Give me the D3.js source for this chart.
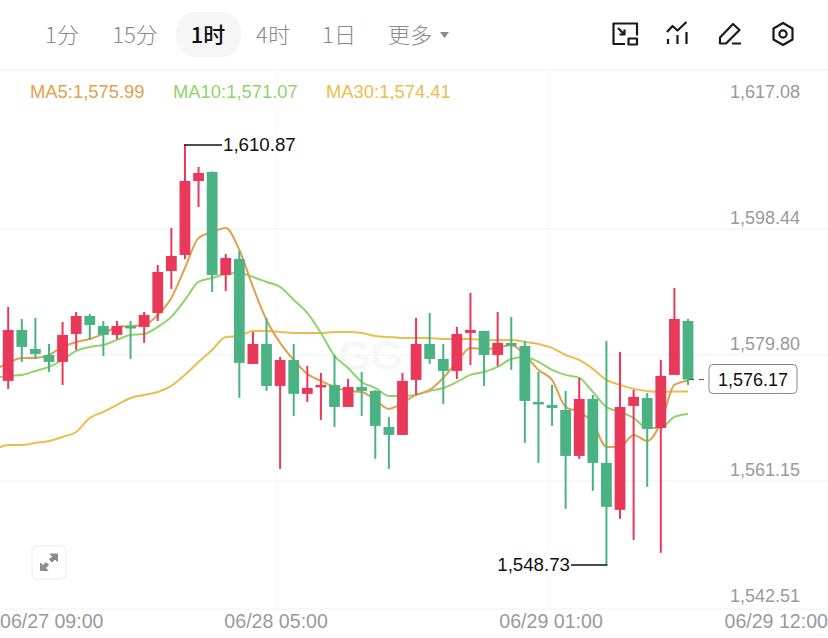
<!DOCTYPE html>
<html lang="zh">
<head>
<meta charset="utf-8">
<title>K线图</title>
<script src="https://cdn.jsdelivr.net/npm/d3@7/dist/d3.min.js"></script>
<style>
  html, body { margin: 0; padding: 0; background: #fff; }
  svg { display: block; }
  text { font-family: "Liberation Sans", Arial, sans-serif; }
  .cjk { font-family: "Noto Sans CJK SC", "Noto Sans", sans-serif; }
</style>
</head>
<body>
<svg id="chart" width="828" height="638"></svg>
<script>
// Hourly candles, oldest first
const opens = [1575.96,1583.50,1580.69,1579.80,1578.77,1582.91,1585.57,1584.09,1582.77,1584.09,1583.95,1586.02,1592.23,1594.60,1605.54,1606.88,1591.64,1594.01,1578.47,1581.43,1575.22,1579.06,1574.04,1575.07,1575.37,1572.11,1575.07,1574.48,1569.15,1567.97,1576.11,1581.43,1579.21,1577.44,1583.06,1583.36,1579.80,1581.58,1581.14,1572.85,1572.41,1571.67,1564.86,1573.30,1563.83,1556.88,1572.26,1573.44,1569.00,1576.85,1584.83];
const highs = [1586.90,1585.13,1585.28,1581.43,1584.69,1586.16,1585.87,1584.83,1584.83,1584.83,1586.16,1593.12,1598.59,1610.87,1607.62,1606.95,1594.75,1595.19,1583.21,1585.28,1579.51,1581.43,1578.18,1577.14,1579.80,1576.25,1577.29,1574.60,1570.63,1577.14,1585.28,1586.02,1581.43,1583.95,1588.98,1583.36,1586.16,1585.43,1581.88,1577.29,1575.37,1574.48,1576.40,1573.89,1581.88,1580.25,1574.63,1574.18,1579.06,1589.72,1585.13];
const lows = [1574.78,1578.77,1579.21,1577.29,1575.37,1580.55,1582.03,1579.66,1582.17,1579.21,1581.58,1584.83,1589.57,1594.01,1601.70,1589.12,1589.27,1573.44,1578.47,1574.48,1562.94,1570.78,1572.85,1570.19,1569.15,1572.11,1570.78,1564.42,1562.94,1567.97,1573.89,1578.47,1572.56,1576.25,1578.32,1575.22,1578.18,1577.59,1566.79,1563.83,1569.30,1557.03,1564.42,1559.69,1548.73,1555.55,1552.44,1560.28,1550.52,1576.85,1575.37];
const closes = [1583.50,1580.99,1579.95,1578.77,1582.77,1585.57,1584.24,1582.77,1584.09,1583.95,1585.72,1592.08,1594.45,1605.54,1606.73,1591.64,1594.16,1578.62,1581.43,1575.22,1579.06,1574.04,1574.92,1575.37,1572.11,1575.07,1574.48,1569.30,1567.97,1575.96,1581.43,1579.21,1577.44,1582.91,1583.50,1579.80,1581.58,1581.14,1573.00,1572.56,1571.96,1564.86,1573.30,1563.83,1557.32,1572.11,1573.59,1568.86,1576.70,1585.13,1576.17];

// Moving averages; each list starts one bar before the first candle
const ma5 = [1577.59,1578.62,1579.36,1579.36,1579.80,1580.99,1581.73,1582.17,1582.91,1583.95,1584.09,1584.24,1585.72,1588.24,1592.67,1597.11,1597.99,1598.59,1595.34,1589.87,1584.98,1581.58,1579.06,1577.00,1575.96,1575.07,1574.48,1574.33,1573.15,1571.82,1572.70,1573.89,1574.63,1576.40,1578.77,1580.84,1580.69,1580.84,1581.28,1579.80,1577.59,1576.11,1572.11,1571.37,1569.75,1566.20,1566.20,1567.97,1567.08,1569.75,1575.37,1575.99];
const ma10 = [1576.40,1576.70,1576.85,1577.44,1578.03,1579.06,1580.40,1580.99,1581.28,1582.03,1582.77,1582.91,1583.95,1585.43,1587.94,1590.60,1591.19,1591.79,1591.94,1591.34,1590.60,1589.87,1587.94,1586.02,1583.06,1579.66,1577.88,1575.81,1574.92,1573.74,1573.74,1573.89,1574.48,1574.92,1575.81,1576.85,1577.29,1578.03,1579.21,1579.51,1578.77,1577.59,1576.85,1576.40,1574.33,1572.11,1571.37,1570.48,1569.00,1569.00,1570.63,1571.07];
const ma30 = [1565.75,1566.49,1566.49,1566.79,1567.08,1567.67,1568.41,1570.48,1571.37,1572.41,1573.44,1573.89,1574.33,1575.22,1576.85,1578.77,1580.55,1582.47,1582.62,1583.36,1583.36,1583.21,1583.06,1583.06,1583.06,1583.21,1583.21,1583.06,1582.62,1582.47,1582.32,1582.32,1582.32,1582.17,1582.17,1582.17,1582.03,1582.03,1582.03,1581.73,1581.43,1580.84,1579.80,1579.06,1577.74,1576.11,1575.37,1574.78,1574.48,1574.33,1574.41,1574.41];

// Axis and toolbar labels
const priceTicks = [1617.08, 1598.44, 1579.80, 1561.15, 1542.51];
const timeTicks = ["06/27 09:00", "06/28 05:00", "06/29 01:00", "06/29 12:00"];
const timeTickBars = [0, 20, 40, 51];
const periodTabs = ["1分", "15分", "1时", "4时", "1日", "更多"];
const activeTab = "1时";
const legendNames = ["MA5", "MA10", "MA30"];
const lastPrice = 1576.17;

const RED = "#e8395a", GREEN = "#4bb383";
const MA_COLORS = ["#e0a14f", "#8fd46a", "#ebbd4f"];
const TICK_GRAY = "#9a9a9a";
const fmt = d3.format(",.2f");

const svg = d3.select("#chart");

const x = d3.scaleLinear().domain([0, 50]).range([8.2, 688]);
const y = d3.scaleLinear().domain([1542.51, 1617.08]).range([607, 103]);

// Clip the plotted series to the canvas
svg.append("defs").append("clipPath").attr("id", "plot")
  .append("rect").attr("x", 0).attr("y", 0).attr("width", 828).attr("height", 638);

// Panel rules and grid
const grid = svg.append("g").attr("stroke", "#f6f6f6").attr("stroke-width", 1.4);
grid.selectAll("line.h").data(priceTicks.slice(1, 4)).join("line").attr("class", "h")
  .attr("x1", 0).attr("x2", 828).attr("y1", d => y(d)).attr("y2", d => y(d));
grid.selectAll("line.v").data(timeTickBars.slice(1, 3)).join("line").attr("class", "v")
  .attr("stroke", "#fafafa")
  .attr("x1", d => x(d) - 3).attr("x2", d => x(d) - 3).attr("y1", 70).attr("y2", 609);
[70, 609, 635].forEach(py => grid.append("line").attr("x1", 0).attr("x2", 828).attr("y1", py).attr("y2", py));

// Faint watermark behind the series
svg.append("text").attr("x", 338).attr("y", 370).attr("font-size", 42).attr("font-weight", 700)
  .attr("fill", "#f7f7f7").text("GG");

// Moving average lines
const plot = svg.append("g").attr("clip-path", "url(#plot)");
const line = d3.line().x((d, i) => x(i - 1)).y(d => y(d)).curve(d3.curveMonotoneX);
[ma30, ma10, ma5].forEach((series, k) => {
  plot.append("path").attr("d", line(series)).attr("fill", "none")
    .attr("stroke", MA_COLORS[2 - k]).attr("stroke-width", 2).attr("stroke-linejoin", "round");
});

// Candles
const bars = d3.range(opens.length);
const candle = plot.selectAll("g.candle").data(bars).join("g").attr("class", "candle")
  .attr("fill", i => closes[i] >= opens[i] ? RED : GREEN)
  .attr("stroke", "none");
candle.append("rect").attr("x", i => x(i) - 1).attr("width", 2)
  .attr("y", i => y(highs[i])).attr("height", i => y(lows[i]) - y(highs[i]));
candle.append("rect").attr("x", i => x(i) - 5.4).attr("width", 10.8)
  .attr("y", i => y(Math.max(opens[i], closes[i])))
  .attr("height", i => Math.max(2.5, Math.abs(y(opens[i]) - y(closes[i]))));

// Price axis
svg.append("g").selectAll("text").data(priceTicks).join("text")
  .attr("x", 800).attr("y", d => y(d) - 5).attr("text-anchor", "end")
  .attr("font-size", 18).attr("fill", TICK_GRAY).text(fmt);

// Time axis; the outer labels stay inside the canvas
const timeAxis = svg.append("g").attr("font-size", 19.6).attr("fill", TICK_GRAY);
timeTicks.forEach((label, k) => {
  const t = timeAxis.append("text").attr("y", 628).text(label);
  if (k === 0) t.attr("x", 0);
  else if (k === timeTicks.length - 1) t.attr("x", 828).attr("text-anchor", "end");
  else t.attr("x", x(timeTickBars[k]) - (k === 1 ? 4 : 1)).attr("text-anchor", "middle");
});

// Legend with the latest averages
const legendX = [30, 173, 326];
[ma5, ma10, ma30].forEach((series, k) => {
  svg.append("text").attr("x", legendX[k]).attr("y", 98).attr("font-size", 18.4)
    .attr("fill", MA_COLORS[k]).text(`${legendNames[k]}:${fmt(series[series.length - 1])}`);
});

// High and low callouts
const hiBar = highs.indexOf(d3.max(highs));
const loBar = lows.indexOf(d3.min(lows));
const callouts = svg.append("g").attr("font-size", 18.7).attr("fill", "#111");
callouts.append("line").attr("x1", x(hiBar) - 1).attr("x2", 222)
  .attr("y1", y(highs[hiBar])).attr("y2", y(highs[hiBar])).attr("stroke", "#111").attr("stroke-width", 1.4);
callouts.append("text").attr("x", 223).attr("y", y(highs[hiBar]) + 6.5).text(fmt(highs[hiBar]));
callouts.append("line").attr("x1", x(loBar) + 1).attr("x2", 571)
  .attr("y1", y(lows[loBar])).attr("y2", y(lows[loBar])).attr("stroke", "#111").attr("stroke-width", 1.4);
callouts.append("text").attr("x", 570).attr("y", y(lows[loBar]) + 6.5).attr("text-anchor", "end").text(fmt(lows[loBar]));

// Latest price tag
svg.append("line").attr("x1", x(50) + 1).attr("x2", 708).attr("y1", y(lastPrice)).attr("y2", y(lastPrice))
  .attr("stroke", "#555").attr("stroke-width", 1.2).attr("stroke-dasharray", "5 5");
svg.append("rect").attr("x", 709).attr("y", y(lastPrice) - 15).attr("width", 88).attr("height", 29).attr("rx", 4)
  .attr("fill", "#fff").attr("stroke", "#8a8a8a").attr("stroke-width", 1);
svg.append("text").attr("x", 753).attr("y", y(lastPrice) + 6).attr("text-anchor", "middle")
  .attr("font-size", 18).attr("fill", "#111").text(fmt(lastPrice));

// Period tabs
const tabX = [62, 135, 208, 273, 339, 410];
svg.append("rect").attr("x", 176).attr("y", 12).attr("width", 65).attr("height", 45).attr("rx", 20).attr("fill", "#f6f6f6");
periodTabs.forEach((label, k) => {
  svg.append("text").attr("class", "cjk").attr("x", tabX[k]).attr("y", 43).attr("text-anchor", "middle")
    .attr("font-size", 22).attr("font-weight", label === activeTab ? 500 : 300)
    .attr("fill", label === activeTab ? "#111" : "#8a8a8a").text(label);
});
svg.append("path").attr("d", "M440 32h9l-4.500 6z").attr("fill", "#8a8a8a");

// Toolbar icons
const icons = svg.append("g").attr("fill", "none").attr("stroke", "#1a1a1a").attr("stroke-width", 2.2)
  .attr("stroke-linejoin", "round");
icons.append("path").attr("d", "M625 44h-11.500v-20.500h23.500v12");
icons.append("rect").attr("x", 628.500).attr("y", 38.500).attr("width", 8.500).attr("height", 6);
icons.append("path").attr("d", "M618 28l6.500 6.500M624.500 29.500v5h-5");
icons.append("path").attr("d", "M667 32l5.500-6 5 4.500 9-8.500M668 44v-5M677.500 44v-9M686.500 44v-12");
icons.append("path").attr("d", "M720 43.500v-6l13-13.500 6.500 6-13.500 13.500zM732 43.500h9");
icons.append("path").attr("d", "M783 23l9.500 5.500v11l-9.500 5.500-9.500-5.500v-11z");
icons.append("circle").attr("cx", 783).attr("cy", 34).attr("r", 3.600);

// Fullscreen button
svg.append("rect").attr("x", 32).attr("y", 546).attr("width", 34).attr("height", 33).attr("rx", 5)
  .attr("fill", "#fff").attr("stroke", "#f1f1f1").attr("stroke-width", 1.5);
const expand = svg.append("g").attr("fill", "#8c8c8c").attr("stroke", "#8c8c8c");
expand.append("path").attr("d", "M50 554h7.500v7.500l-2.500-2.500-3 3-2.500-2.500 3-3z");
expand.append("path").attr("d", "M48 570.500h-7.500v-7.500l2.500 2.500 3-3 2.500 2.500-3 3z");
</script>
</body>
</html>
